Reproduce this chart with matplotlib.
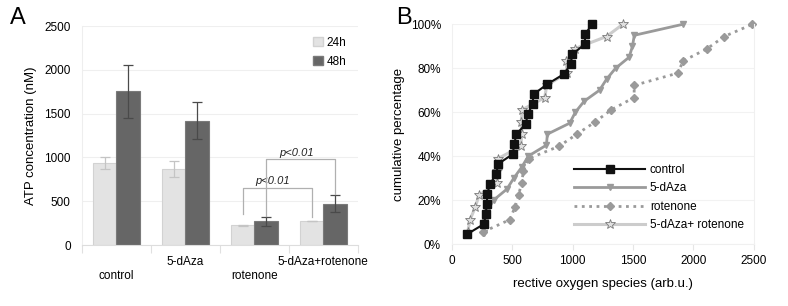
import numpy as np
import matplotlib
matplotlib.use("Agg")
import matplotlib.pyplot as plt
from matplotlib.patches import Patch

plt.rcParams["font.family"] = ["Liberation Sans", "DejaVu Sans"]

# Panel A: ATP concentration per treatment, 24h and 48h
GROUPS = ["control", "5-dAza", "rotenone", "5-dAza+rotenone"]
ATP_24H = [935, 866, 225, 275]
ATP_24H_ERR = [72, 88, 6, 4]
ATP_48H = [1754, 1420, 271, 473]
ATP_48H_ERR = [303, 212, 52, 100]
# significance brackets: (left bar, right bar, bracket height, left leg end, right leg end)
BRACKETS = [((2, "24h"), (3, "24h"), 656, 355, 324),
            ((2, "48h"), (3, "48h"), 984, 330, 583)]
P_LABEL = "p<0.01"

# Panel B: cumulative distributions of ROS
CONTROL_X = [127, 265, 280, 288, 293, 313, 368, 381, 503, 516, 533, 610,
             628, 667, 676, 789, 925, 984, 996, 1100, 1103, 1160]
DAZA_X = [262, 275, 292, 345, 455, 512, 578, 632, 782, 790, 975, 1022,
          1095, 1222, 1280, 1355, 1467, 1495, 1510, 1912]
ROT_X = [260, 480, 520, 551, 577, 592, 634, 885, 1035, 1185, 1320, 1508,
         1510, 1870, 1915, 2113, 2255, 2488]
COMBO_X = [130, 150, 192, 224, 372, 375, 381, 571, 577, 573, 582, 768,
           785, 950, 948, 1016, 1280, 1415]

BAR_W = 0.34


def cum_pct(xs):
    n = len(xs)
    return [100.0 * (i + 1) / n for i in range(n)]


def plot_atp(fig):
    ax = fig.add_axes([0.104, 0.199, 0.350, 0.716])
    x = np.arange(len(GROUPS))
    ax.bar(x - BAR_W / 2, ATP_24H, BAR_W, color="#e3e3e3", edgecolor="#d2d2d2",
           lw=0.8, zorder=2, label="24h")
    ax.bar(x + BAR_W / 2, ATP_48H, BAR_W, color="#666666", edgecolor="#7a7a7a",
           lw=0.8, zorder=2, label="48h")
    ax.errorbar(x - BAR_W / 2, ATP_24H, yerr=ATP_24H_ERR, fmt="none",
                ecolor="#c4c4c4", elinewidth=0.9, capsize=3.5, capthick=0.9, zorder=3)
    ax.errorbar(x + BAR_W / 2, ATP_48H, yerr=ATP_48H_ERR, fmt="none",
                ecolor="#4a4a4a", elinewidth=0.9, capsize=3.5, capthick=0.9, zorder=3)

    off = {"24h": -BAR_W / 2, "48h": BAR_W / 2}
    for (g1, s1), (g2, s2), h, y1, y2 in BRACKETS:
        xa, xb = g1 + off[s1], g2 + off[s2]
        ax.plot([xa, xa, xb, xb], [y1, h, h, y2], color="#b0b0b0", lw=0.9, zorder=4)
        ax.text((xa + xb) / 2 - 0.06, h + 15, P_LABEL, style="italic", fontsize=8,
                ha="center", va="bottom", color="#222222")

    ax.set_xlim(-0.5, len(GROUPS) - 0.5)
    ax.set_ylim(0, 2500)
    ax.set_yticks(range(0, 2501, 500))
    ax.yaxis.grid(True, color="#efefef", lw=0.8)
    ax.set_axisbelow(True)
    ax.set_xticks(np.arange(len(GROUPS) + 1) - 0.5)
    ax.set_xticklabels([])
    ax.tick_params(axis="x", length=6, color="#e0e0e0", direction="out")
    ax.tick_params(axis="y", length=0, labelsize=8.5, pad=8)
    for sp in ["top", "right"]:
        ax.spines[sp].set_visible(False)
    ax.spines["left"].set_color("#eeeeee")
    ax.spines["bottom"].set_color("#dddddd")
    for i, name in enumerate(GROUPS):
        dy = -0.078 if i % 2 else -0.142
        ax.text(i, dy, name, transform=ax.get_xaxis_transform(), ha="center",
                va="center", fontsize=8.5)
    ax.set_ylabel("ATP concentration (nM)", fontsize=9.5, labelpad=5)
    handles = [Patch(facecolor="#e3e3e3", edgecolor="#d2d2d2"),
               Patch(facecolor="#666666", edgecolor="#7a7a7a")]
    ax.legend(handles, ["24h", "48h"], loc="upper left", bbox_to_anchor=(0.8, 1.0),
              frameon=False, fontsize=8.5, handlelength=0.8, handleheight=0.8,
              handletextpad=0.3, labelspacing=0.6)
    fig.text(0.012, 0.94, "A", fontsize=17, va="center")


def plot_ros(fig):
    ax = fig.add_axes([0.5736, 0.2026, 0.383, 0.718])
    series = [
        (ROT_X, "rotenone", dict(color="#9a9a9a", ls=":", lw=2.0, marker="D", ms=4.5)),
        (DAZA_X, "5-dAza", dict(color="#9a9a9a", ls="-", lw=2.0, marker="v", ms=5)),
        (COMBO_X, "5-dAza+ rotenone", dict(color="#cccccc", ls="-", lw=2.2, marker="*", ms=7,
                                          mfc="#e0e0e0", mec="#7a7a7a", mew=0.6)),
        (CONTROL_X, "control", dict(color="#111111", ls="-", lw=1.5, marker="s", ms=5.5)),
    ]
    lines = {}
    for xs, label, kw in series:
        ln, = ax.plot(xs, cum_pct(xs), label=label, clip_on=False, **kw)
        lines[label] = ln
    ax.set_xlim(0, 2500)
    ax.set_ylim(0, 100)
    ax.set_xticks(range(0, 2501, 500))
    ax.set_yticks(range(0, 101, 20))
    ax.set_yticklabels([f"{v}%" for v in range(0, 101, 20)])
    ax.yaxis.grid(True, color="#f2f2f2", lw=0.8)
    ax.set_axisbelow(True)
    ax.tick_params(axis="x", length=4, color="#e6e6e6", labelsize=8.5, pad=4)
    ax.tick_params(axis="y", length=0, labelsize=8.5, pad=8)
    ax.spines["top"].set_visible(False)
    for sp in ["left", "bottom", "right"]:
        ax.spines[sp].set_color("#f0f0f0")
    ax.set_xlabel("rective oxygen species (arb.u.)", fontsize=9.5, labelpad=8)
    ax.set_ylabel("cumulative percentage", fontsize=9.5, labelpad=4)
    order = ["control", "5-dAza", "rotenone", "5-dAza+ rotenone"]
    ax.legend([lines[k] for k in order], order, loc="lower left",
              bbox_to_anchor=(0.37, 0.01), frameon=False, fontsize=8.5,
              handlelength=6.0, handletextpad=0.4, labelspacing=0.55)
    fig.text(0.503, 0.94, "B", fontsize=17, va="center")


def main():
    fig = plt.figure(figsize=(7.88, 3.06), dpi=100)
    plot_atp(fig)
    plot_ros(fig)
    fig.savefig("out.png", dpi=100)


if __name__ == "__main__":
    main()
